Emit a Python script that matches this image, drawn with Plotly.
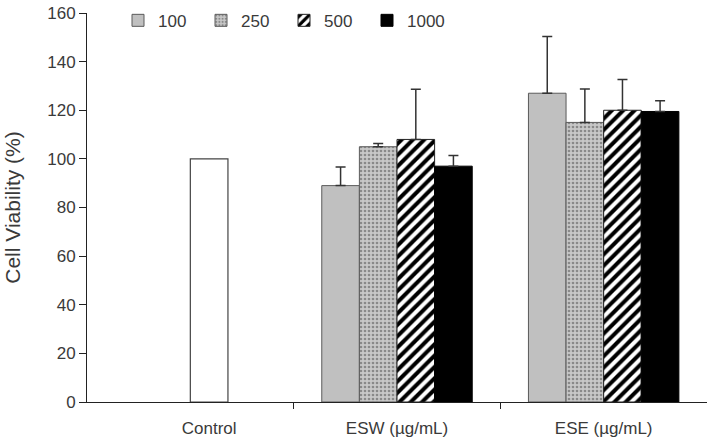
import plotly.graph_objects as go

# ---- data ----
categories = ["Control", "ESW (µg/mL)", "ESE (µg/mL)"]
control_value = [100]
control_error = [0]
series_names = ["100", "250", "500", "1000"]
esw_values = [89, 105, 108, 97]
esw_errors = [7.7, 1.3, 20.6, 4.4]
ese_values = [127, 115, 120, 119.5]
ese_errors = [23.3, 13.7, 12.6, 4.4]
y_ticks = [0, 20, 40, 60, 80, 100, 120, 140, 160]

# ---- styles ----
FONT = "Liberation Sans, Arial, sans-serif"
TXT = "#3a3a3a"
bar_w = 0.182
styles = [
    dict(color="#c0c0c0", line=dict(color="#5a5a5a", width=1)),
    dict(color="#c8c8c8", line=dict(color="#5a5a5a", width=1),
         pattern=dict(shape=".", fgcolor="#4a4a4a", bgcolor="#c8c8c8", size=4, solidity=0.35)),
    dict(color="white", line=dict(color="#222222", width=1),
         pattern=dict(shape="/", fgcolor="black", bgcolor="white", fgopacity=1,
                      size=8, solidity=0.5)),
    dict(color="black", line=dict(color="black", width=1)),
]

fig = go.Figure()

# control bar (sits in third slot of the group)
ctrl_offset = 0.0
fig.add_trace(go.Bar(
    x=[categories.index("Control")], y=control_value,
    width=bar_w, offset=ctrl_offset,
    marker=dict(color="white", line=dict(color="#444444", width=1.2)),
    showlegend=False, hoverinfo="skip",
))

group_x = [categories.index("ESW (µg/mL)"), categories.index("ESE (µg/mL)")]
n = len(series_names)
for i, name in enumerate(series_names):
    vals = [esw_values[i], ese_values[i]]
    errs = [esw_errors[i], ese_errors[i]]
    fig.add_trace(go.Bar(
        x=group_x, y=vals, name=name,
        width=bar_w, offset=-n / 2 * bar_w + i * bar_w,
        marker=styles[i],
        error_y=dict(type="data", symmetric=False, array=errs,
                     arrayminus=[0] * len(errs),
                     color="#333333", thickness=1.5, width=5),
    ))

label_pos = [ctrl_offset + bar_w / 2, group_x[0], group_x[1]]

fig.update_layout(
    width=707, height=438,
    margin=dict(l=87, r=0, t=13, b=36),
    paper_bgcolor="white", plot_bgcolor="white",
    barmode="overlay",
    font=dict(family=FONT, color=TXT, size=17),
    showlegend=True,
    legend=dict(orientation="h", x=0.05, xanchor="left", y=0.98, yanchor="middle",
                font=dict(size=17, color=TXT, family=FONT),
                entrywidth=38, entrywidthmode="pixels",
                bgcolor="rgba(0,0,0,0)", traceorder="normal"),
    xaxis=dict(
        range=[-0.5, 2.5], showgrid=False, zeroline=False,
        showline=True, linecolor="#222222", linewidth=1,
        tickvals=label_pos, ticktext=categories, ticks="",
        tickfont=dict(size=17, color=TXT, family=FONT),
        ticklabelstandoff=11,
        minor=dict(tickvals=[0.5, 1.5], ticks="outside", ticklen=6,
                   tickcolor="#222222", tickwidth=1, showgrid=False),
        automargin=False,
    ),
    yaxis=dict(
        range=[0, 160], tickvals=y_ticks, showgrid=False, zeroline=False,
        showline=True, linecolor="#222222", linewidth=1,
        ticks="outside", ticklen=7, tickcolor="#222222",
        tickfont=dict(size=17, color=TXT, family=FONT),
        title=dict(text="Cell Viability (%)", font=dict(size=21, color=TXT, family=FONT),
                   standoff=20),
        automargin=False,
    ),
)

fig.write_html("out.html")
